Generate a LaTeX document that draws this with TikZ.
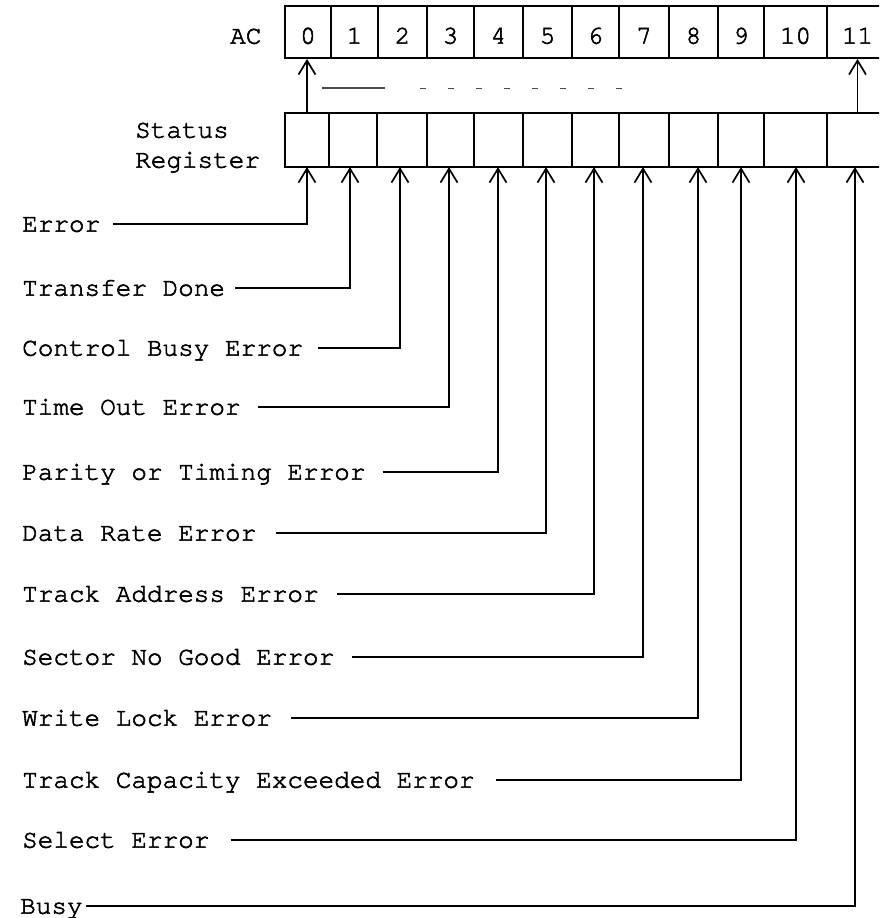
\documentclass[tikz,border=0pt]{standalone}
\usepackage{fontspec}
\newfontfamily\twfont{texgyrecursor-regular.otf}[FakeBold=2.2]
\usetikzlibrary{arrows.meta}
\begin{document}
\begin{tikzpicture}[x=1pt,y=-1pt,
  tw/.style={font=\twfont\fontsize{26}{26}\selectfont},
  lbl/.style={tw, inner sep=0pt, text height=15.4pt, text depth=0pt, anchor=west},
  accell/.style={tw, draw, line width=1.9pt, minimum height=52pt, inner sep=0pt, text height=23.4pt, text depth=0pt},
  srcell/.style={draw, line width=1.9pt, minimum height=54pt, inner sep=0pt},
  feed/.style={line width=1.8pt, -{Straight Barb[length=14pt,width=17pt,line width=1.7pt]}},
  noise/.style={line width=1.1pt, black!70},
]
\useasboundingbox (0,0) rectangle (879,918);
\clip (0,0) rectangle (879,918);

% AC register
\node[lbl] (aclab) at (230,36) {AC};
\node[accell, minimum width=46pt] (ac0) at (308,32) {0};
\node[accell, minimum width=47pt] (ac1) at (354.5,32) {1};
\node[accell, minimum width=49pt] (ac2) at (402.5,32) {2};
\node[accell, minimum width=47pt] (ac3) at (450.5,32) {3};
\node[accell, minimum width=49pt] (ac4) at (498.5,32) {4};
\node[accell, minimum width=49pt] (ac5) at (547.5,32) {5};
\node[accell, minimum width=47pt] (ac6) at (595.5,32) {6};
\node[accell, minimum width=50pt] (ac7) at (644,32) {7};
\node[accell, minimum width=49pt] (ac8) at (693.5,32) {8};
\node[accell, minimum width=46pt] (ac9) at (741,32) {9};
\node[accell, minimum width=63pt] (ac10) at (795.5,32) {10};
\node[accell, minimum width=61pt] (ac11) at (857.5,32) {11};

% Status register
\node[lbl] (st1) at (135,130) {Status};
\node[lbl] (st2) at (135,160) {Register};
\node[srcell, minimum width=44pt] (sr0) at (307,140) {};
\node[srcell, minimum width=48pt] (sr1) at (353,140) {};
\node[srcell, minimum width=50pt] (sr2) at (402,140) {};
\node[srcell, minimum width=47pt] (sr3) at (450.5,140) {};
\node[srcell, minimum width=49pt] (sr4) at (498.5,140) {};
\node[srcell, minimum width=49pt] (sr5) at (547.5,140) {};
\node[srcell, minimum width=47pt] (sr6) at (595.5,140) {};
\node[srcell, minimum width=50pt] (sr7) at (644,140) {};
\node[srcell, minimum width=49pt] (sr8) at (693.5,140) {};
\node[srcell, minimum width=46pt] (sr9) at (741,140) {};
\node[srcell, minimum width=63pt] (sr10) at (795.5,140) {};
\node[srcell, minimum width=61pt] (sr11) at (857.5,140) {};

% transfers status -> AC
\draw[feed] (sr0.north) -- (sr0.north |- ac0.south);
\draw[feed] (sr11.north) -- (sr11.north |- ac11.south);

% faint remnants between the registers
\draw[noise] (322,88) -- (385,88);
\draw[noise, line width=0.8pt, dash pattern=on 6pt off 22pt] (420,88) -- (640,88);

% input points under the status register
\coordinate (a0) at (307,167);
\coordinate (a1) at (350,167);
\coordinate (a2) at (400,167);
\coordinate (a3) at (449,167);
\coordinate (a4) at (498,167);
\coordinate (a5) at (546,167);
\coordinate (a6) at (594,167);
\coordinate (a7) at (643,167);
\coordinate (a8) at (698,167);
\coordinate (a9) at (741,167);
\coordinate (a10) at (796,167);
\coordinate (a11) at (855,167);

% labels
\node[lbl] (e0) at (22,224) {Error};
\node[lbl] (e1) at (22,288) {Transfer Done};
\node[lbl] (e2) at (22,348) {Control Busy Error};
\node[lbl] (e3) at (22,407) {Time Out Error};
\node[lbl] (e4) at (22,472) {Parity or Timing Error};
\node[lbl] (e5) at (22,533) {Data Rate Error};
\node[lbl] (e6) at (22,594) {Track Address Error};
\node[lbl] (e7) at (22,657) {Sector No Good Error};
\node[lbl] (e8) at (22,718) {Write Lock Error};
\node[lbl] (e9) at (22,780) {Track Capacity Exceeded Error};
\node[lbl] (e10) at (22,840) {Select Error};
\node[lbl] (e11) at (20,906) {Busy};

% connectors
\draw[feed] ([xshift=13pt]e0.east) -| (a0);
\draw[feed] ([xshift=10pt]e1.east) -| (a1);
\draw[feed] ([xshift=15pt]e2.east) -| (a2);
\draw[feed] ([xshift=17pt]e3.east) -| (a3);
\draw[feed] ([xshift=17pt]e4.east) -| (a4);
\draw[feed] ([xshift=20pt]e5.east) -| (a5);
\draw[feed] ([xshift=18pt]e6.east) -| (a6);
\draw[feed] ([xshift=18pt]e7.east) -| (a7);
\draw[feed] ([xshift=19pt]e8.east) -| (a8);
\draw[feed] ([xshift=21pt]e9.east) -| (a9);
\draw[feed] ([xshift=21pt]e10.east) -| (a10);
\draw[feed] ([xshift=3pt]e11.east) -| (a11);
\end{tikzpicture}
\end{document}
